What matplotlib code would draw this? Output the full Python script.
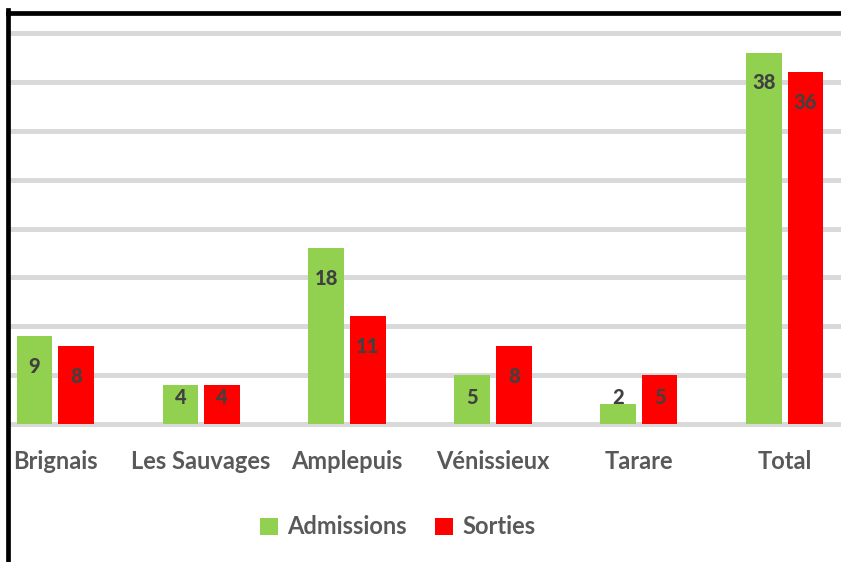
import numpy as np
import matplotlib.pyplot as plt
from matplotlib.lines import Line2D

# donnees
categories = ['Brignais', 'Les Sauvages', 'Amplepuis', 'Vénissieux', 'Tarare', 'Total']
admissions = [9, 4, 18, 5, 2, 38]
sorties = [8, 4, 11, 8, 5, 36]

GREEN = '#92D050'
RED = '#FF0000'
GRID = '#D9D9D9'
TXT = '#595959'
LBL = '#404040'

plt.rcParams['font.family'] = ['Lato', 'DejaVu Sans']

W, H = 841, 562
fig = plt.figure(figsize=(W / 100, H / 100), dpi=100)

# zone de tracé (coupée a droite comme dans l'image)
px_unit = 9.775
ymax = 42
top_px = 424 - ymax * px_unit
ax = fig.add_axes([10 / W, 1 - 424 / H, 1 - 10 / W, (424 - top_px) / H])

x = np.arange(len(categories))
bw = 0.245
off = 0.142
ax.bar(x - off, admissions, bw, color=GREEN, label='Admissions', zorder=3)
ax.bar(x + off, sorties, bw, color=RED, label='Sorties', zorder=3)

# etiquettes de valeurs
for xs, vals in ((x - off, admissions), (x + off, sorties)):
    for xi, v in zip(xs, vals):
        ax.text(xi, max(v - 3.1, 2.7), str(v), ha='center', va='center',
                fontsize=14.5, fontweight='black', color=LBL, zorder=4)

ax.set_xlim(-0.31, 5.385)
ax.set_ylim(0, ymax)
ax.set_yticks(np.arange(5, 41, 5))
ax.set_yticklabels([])
ax.tick_params(axis='y', length=0)
ax.grid(axis='y', color=GRID, linewidth=3.6, zorder=0)
ax.axhline(0, color=GRID, linewidth=3.6, clip_on=False, zorder=2)
ax.set_axisbelow(True)
for s in ax.spines.values():
    s.set_visible(False)

ax.set_xticks(x)
ax.set_xticklabels(categories, fontsize=17, fontweight='bold', color=TXT)
ax.tick_params(axis='x', length=0, pad=19)

leg = fig.legend(loc='center', bbox_to_anchor=(398 / W, 1 - 527 / H), ncol=2,
                 frameon=False, fontsize=17, handlelength=0.75, handleheight=0.75,
                 columnspacing=1.2, handletextpad=0.4)
for t in leg.get_texts():
    t.set_color(TXT)
    t.set_fontweight('bold')

# cadre noir (bord gauche et haut)
fig.add_artist(Line2D([8 / W, 8 / W], [0, 1 - 10 / H], color='black', linewidth=3.4,
                      solid_capstyle='projecting', transform=fig.transFigure))
fig.add_artist(Line2D([8 / W, 1], [1 - 12.5 / H, 1 - 12.5 / H], color='black', linewidth=3.4,
                      solid_capstyle='projecting', transform=fig.transFigure))

fig.savefig('out.png', dpi=100)
